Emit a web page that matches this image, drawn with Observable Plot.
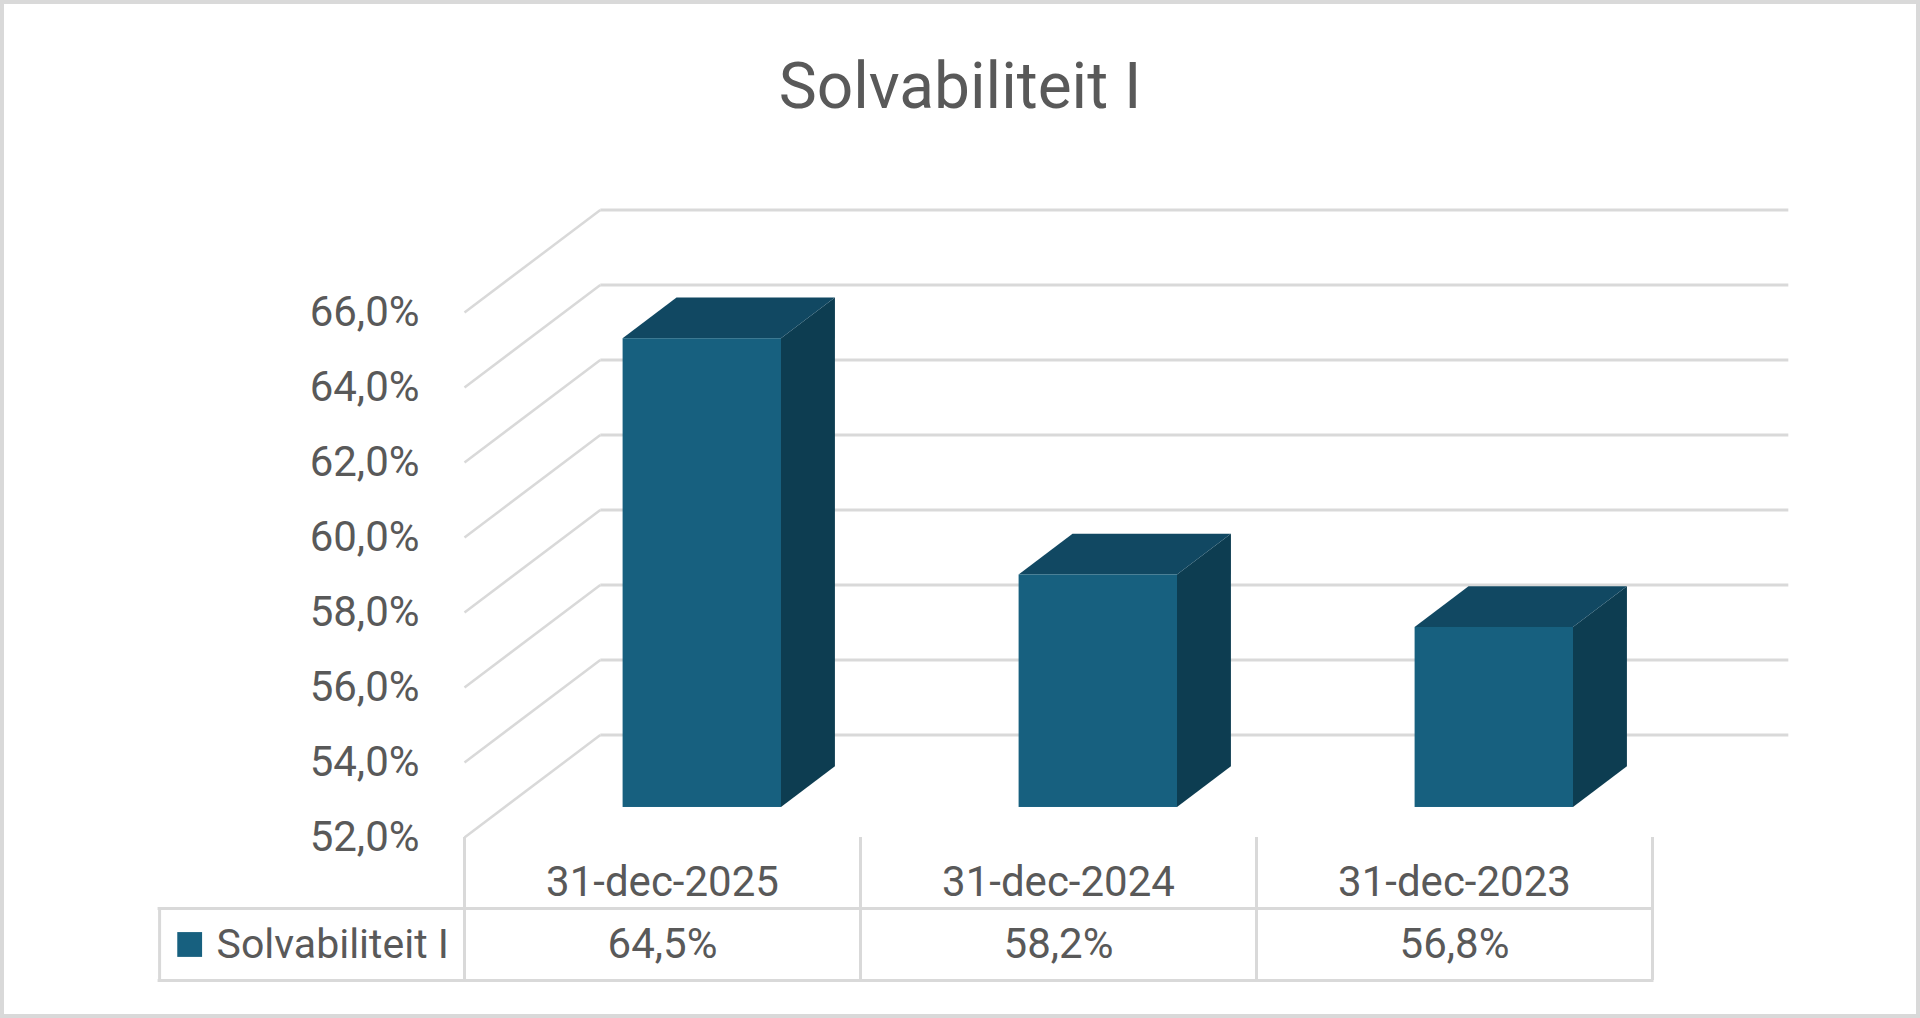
<!DOCTYPE html>
<html><head><meta charset="utf-8">
<script src="https://cdn.jsdelivr.net/npm/d3@7"></script>
<script src="https://cdn.jsdelivr.net/npm/@observablehq/plot@0.6"></script>
<style>
html,body{margin:0;padding:0;background:#fff;}
#wrap{position:relative;width:1920px;height:1018px;overflow:hidden;background:#fff;font-family:Roboto,"Liberation Sans",sans-serif;}
#title{position:absolute;left:0;top:55px;width:1920px;text-align:center;font-size:64px;line-height:64px;color:#595959;font-family:Roboto,"Liberation Sans",sans-serif;}
#frame{position:absolute;left:0;top:0;width:1920px;height:1018px;box-sizing:border-box;border:4px solid #d9d9d9;pointer-events:none;}
#chart{position:absolute;left:0;top:0;}
</style></head><body>
<div id="wrap"><div id="chart"></div><div id="title">Solvabiliteit I</div><div id="frame"></div></div>
<script>
// ---- data ----
const categories = ["31-dec-2025", "31-dec-2024", "31-dec-2023"];
const values = [64.5, 58.2, 56.8];
const valueLabels = ["64,5%", "58,2%", "56,8%"];
const seriesName = "Solvabiliteit I";
const yTicks = [52, 54, 56, 58, 60, 62, 64, 66];
const yTickLabels = ["52,0%", "54,0%", "56,0%", "58,0%", "60,0%", "62,0%", "64,0%", "66,0%"];

// ---- 3D layout (in scale units) ----
const n = categories.length;
const base = yTicks[0];
const depthX = 0.343, depthY = 2.733;   // full-depth offset of the back wall
const dFront = 0.293, dBack = 0.69;     // bar front / back planes
const barHalf = 0.2;
const legendLeft = -0.77, tableTop = 50.107, tableBottom = 48.187;
const catLabelY = 50.8, valueRowY = 49.147, keyX = -0.694, legendTextX = -0.626;

const colFront = "#17607F", colSide = "#0D3D51", colTop = "#114862";
const grid = "#d9d9d9", textCol = "#595959";

const bars = values.map((v, i) => ({i, v, cat: categories[i]}));
const sideData = bars.flatMap(d => [
  {i: d.i, x: d.i + 0.5 + barHalf + dFront * depthX, y1: base + dFront * depthY, y2: d.v + dFront * depthY},
  {i: d.i, x: d.i + 0.5 + barHalf + dBack * depthX, y1: base + dBack * depthY, y2: d.v + dBack * depthY}
]);
const topData = bars.flatMap(d => [
  {i: d.i, y: d.v + dFront * depthY, x1: d.i + 0.5 - barHalf + dFront * depthX, x2: d.i + 0.5 + barHalf + dFront * depthX},
  {i: d.i, y: d.v + dBack * depthY, x1: d.i + 0.5 - barHalf + dBack * depthX, x2: d.i + 0.5 + barHalf + dBack * depthX}
]);
const colEdges = d3.range(n + 1);

const chart = Plot.plot({
  width: 1920, height: 1018, margin: 0,
  x: {type: "linear", domain: [0, n], range: [464, 1652], axis: null},
  y: {type: "linear", domain: [base, yTicks[yTicks.length - 1]], range: [837, 312], axis: null},
  style: {fontFamily: "Roboto, 'Liberation Sans', sans-serif", background: "transparent", overflow: "visible"},
  marks: [
    // back wall gridlines
    Plot.link(yTicks, {x1: () => depthX, x2: () => n + depthX, y1: d => d + depthY, y2: d => d + depthY, stroke: grid, strokeWidth: 3}),
    // side wall diagonals
    Plot.link(yTicks, {x1: () => 0, x2: () => depthX, y1: d => d, y2: d => d + depthY, stroke: grid, strokeWidth: 2.5}),
    // bars
    Plot.areaY(sideData, {x: "x", y1: "y1", y2: "y2", z: "i", fill: colSide, curve: "linear"}),
    Plot.areaX(topData, {y: "y", x1: "x1", x2: "x2", z: "i", fill: colTop, curve: "linear"}),
    Plot.rect(bars, {
      x1: d => d.i + 0.5 - barHalf + dFront * depthX, x2: d => d.i + 0.5 + barHalf + dFront * depthX,
      y1: () => base + dFront * depthY, y2: d => d.v + dFront * depthY,
      fill: colFront
    }),
    // y tick labels
    Plot.text(yTicks, {x: () => 0, y: d => d, text: (d, i) => yTickLabels[i], textAnchor: "end", dx: -45, fontSize: 42, fill: textCol}),
    // data table lines
    Plot.ruleX(colEdges, {x: d => d, y1: () => base, y2: () => tableBottom, stroke: grid, strokeWidth: 3}),
    Plot.ruleX([legendLeft], {x: d => d, y1: () => tableTop, y2: () => tableBottom, stroke: grid, strokeWidth: 3}),
    Plot.ruleY([tableTop, tableBottom], {y: d => d, x1: () => legendLeft, x2: () => n, stroke: grid, strokeWidth: 3, strokeLinecap: "square"}),
    // category labels
    Plot.text(categories, {x: (d, i) => i + 0.5, y: () => catLabelY, text: d => d, fontSize: 42, fill: textCol}),
    // value row
    Plot.text(valueLabels, {x: (d, i) => i + 0.5, y: () => valueRowY, text: d => d, fontSize: 42, fill: textCol}),
    // legend key
    Plot.dot([seriesName], {x: () => keyX, y: () => valueRowY, symbol: "square", r: 14, fill: colFront, stroke: null}),
    Plot.text([seriesName], {x: () => legendTextX, y: () => valueRowY, text: d => d, textAnchor: "start", fontSize: 41, fill: textCol})
  ]
});
document.getElementById("chart").appendChild(chart);
</script>
</body></html>
